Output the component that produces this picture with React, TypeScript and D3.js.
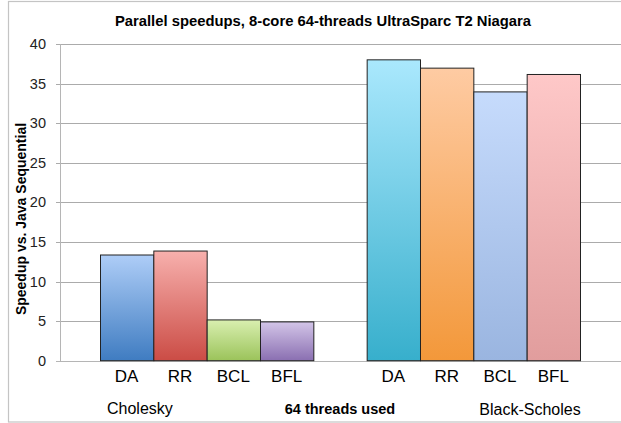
import React from "react";
import * as d3 from "d3";

const groups = ["Cholesky", "Black-Scholes"];
const seriesNames = ["DA", "RR", "BCL", "BFL"];
const choleskyValues = [13.35, 13.85, 5.15, 4.9];
const blackScholesValues = [38.0, 36.95, 33.95, 36.15];
const yTicks = [0, 5, 10, 15, 20, 25, 30, 35, 40];
const titleText = "Parallel speedups, 8-core 64-threads UltraSparc T2 Niagara";
const yTitle = "Speedup vs. Java Sequential";
const footerText = "64 threads used";

const gradients = [
  [
    ["#aecdf7", "#3f7cc1"],
    ["#f7b0ad", "#cb4c45"],
    ["#d9efb0", "#9bc35a"],
    ["#d3c5e8", "#8a6fb1"],
  ],
  [
    ["#aae8fd", "#37afcc"],
    ["#fecba3", "#f3983a"],
    ["#c6dbfc", "#9ab5e0"],
    ["#fec8c8", "#e19d9d"],
  ],
];

export default function App() {
  const W = 621, H = 423;
  const x0 = d3.scaleBand<string>().domain(groups).range([60, 620]).paddingInner(0.2).paddingOuter(0.15);
  const x1 = d3.scaleBand<string>().domain(seriesNames).range([0, x0.bandwidth()]).padding(0);
  const y = d3.scaleLinear().domain([0, 40]).range([360.7, 44]);
  const data = [choleskyValues, blackScholesValues];
  const font = "'Liberation Sans', Arial, sans-serif";

  return (
    <svg width={W} height={H} style={{ position: "absolute", left: 0, top: 0 }} fontFamily={font}>
      <defs>
        {gradients.map((g, gi) =>
          g.map((c, si) => (
            <linearGradient key={`g${gi}-${si}`} id={`g${gi}-${si}`} x1="0" y1="0" x2="0" y2="1">
              <stop offset="0%" stopColor={c[0]} />
              <stop offset="100%" stopColor={c[1]} />
            </linearGradient>
          ))
        )}
      </defs>
      <rect x={0} y={0} width={W} height={H} fill="#fff" />
      <rect x={8.5} y={1.5} width={W + 10} height={420.5} fill="#fff" stroke="#c4c4c4" strokeWidth={1.2} />
      <text x={323} y={26} textAnchor="middle" fontSize={14.8} fontWeight="bold" fill="#000">{titleText}</text>
      {yTicks.map((t) => (
        <g key={t}>
          <line x1={56} x2={621} y1={Math.round(y(t)) + 0.5} y2={Math.round(y(t)) + 0.5} stroke={t === 0 ? "#b5b5b5" : "#ababab"} strokeWidth={1} />
          <text x={46} y={y(t) + 5} textAnchor="end" fontSize={14.5} fill="#222">{t}</text>
        </g>
      ))}
      <line x1={60.5} x2={60.5} y1={y(40)} y2={y(0) + 0.5} stroke="#b5b5b5" />
      <text transform={`translate(26,219) rotate(-90)`} textAnchor="middle" fontSize={14} fontWeight="bold" fill="#000">{yTitle}</text>
      {groups.map((gname, gi) => (
        <g key={gname} transform={`translate(${x0(gname)},0)`}>
          {seriesNames.map((s, si) => (
            <g key={s}>
              <rect
                x={(x1(s) as number) + 0.5}
                y={y(data[gi][si])}
                width={x1.bandwidth()}
                height={y(0) - y(data[gi][si])}
                fill={`url(#g${gi}-${si})`}
                stroke="#222"
                strokeWidth={1}
              />
              <text x={(x1(s) as number) + x1.bandwidth() / 2} y={382} textAnchor="middle" fontSize={17} fill="#000">{s}</text>
            </g>
          ))}
        </g>
      ))}
      <text x={107} y={414} fontSize={16} fill="#000">{groups[0]}</text>
      <text x={340} y={414} textAnchor="middle" fontSize={14.5} fontWeight="bold" fill="#000">{footerText}</text>
      <text x={530} y={415} textAnchor="middle" fontSize={16} fill="#000">{groups[1]}</text>
    </svg>
  );
}
